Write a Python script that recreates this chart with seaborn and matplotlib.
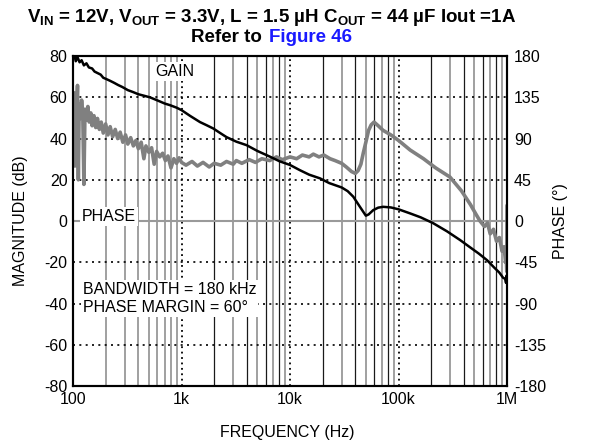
import numpy as np
import pandas as pd
import matplotlib
matplotlib.use("Agg")
import matplotlib.pyplot as plt
import seaborn as sns

# gain trace (Hz, dB)
gain_freq = [100, 103, 106, 110, 115, 120, 126, 133, 140, 150, 158, 165, 180, 190, 200, 220, 240,
             260, 285, 320, 360, 400, 450, 512, 600, 700, 783, 900, 1000, 1200, 1480, 1700, 1960,
             2300, 2600, 3200, 3980, 5000, 6550, 8000, 10000, 12300, 15000, 18900, 23000, 29900,
             34000, 38300, 44100, 48000, 50000, 53000, 58500, 65000, 72300, 85000, 100000, 128000,
             160000, 208000, 280000, 369000, 450000, 550000, 655000, 760000, 850000, 920000,
             960000, 980000, 990000, 1000000]
gain_db = [79, 80.5, 77.5, 79.5, 77, 78, 75.5, 76.5, 74.5, 74, 72.5, 72, 71, 69.5, 69, 68, 67,
           66, 65, 63.5, 62.5, 61.5, 60.8, 60, 58.5, 57, 56.2, 55, 53.8, 51, 48, 46.5, 44.9,
           42.5, 40.7, 38.5, 36.8, 34, 31.2, 29, 27.2, 24.7, 22.5, 20.7, 18.4, 16.3,
           14.5, 11.8, 6.9, 4, 2.6, 3.2, 5.3, 6.5, 6.9, 6.6, 5.7, 3.7,
           1.8, -1, -5, -9.2, -12.5, -15.8, -19, -22.5, -25, -27.5,
           -28, -30, -26.5, -30]

# phase trace (Hz, degrees)
phase_freq = [100, 102, 104, 106, 108, 110, 112, 114, 117, 120, 123, 126, 129, 133, 137, 141, 146,
              150, 156, 162, 168, 175, 182, 190, 200, 210, 220, 232, 245, 258, 272, 288, 305, 320,
              340, 360, 380, 400, 425, 450, 470, 500, 530, 560, 590, 630, 670, 710, 750, 800, 850,
              900, 950, 1000, 1100, 1250, 1400, 1580, 1800, 2000, 2300, 2600, 3000, 3200, 3600,
              4200, 4800, 5500, 6500, 7500, 8500, 10000, 11500, 13000, 15000, 16400, 18500, 20500,
              23400, 26000, 29900, 33000, 36900, 40000, 42400, 45000, 47300, 50000, 53000, 56000,
              59500, 65000, 72000, 85000, 100000, 128000, 170000, 220000, 298000, 380000, 460000,
              520000, 564000, 620000, 660000, 700000, 750000, 800000, 850000, 900000, 940000,
              970000, 985000, 995000, 1000000]
phase_deg = [95, 140, 60, 135, 120, 148, 45, 128, 112, 132, 118, 40, 122, 110, 125, 108, 118,
             104, 115, 102, 112, 100, 108, 96, 106, 94, 103, 92, 100, 90, 97, 86, 94, 84,
             91, 82, 88, 79, 86, 68, 82, 75, 80, 62, 76, 70, 74, 66, 71, 58, 68,
             63, 69, 64, 61, 65, 60, 64, 59, 63, 61, 65, 62, 66, 63,
             67, 64, 68, 66, 70, 67, 70, 68, 72, 70, 73, 70, 72,
             68, 66, 63, 59, 54, 52, 55, 62, 74, 86, 99, 105,
             108, 104, 99, 94, 88, 77.5, 68, 58, 48, 33, 18,
             7, 0, -6, -2, -14, -9, -22, -18, -33, -28,
             -45, -40, -55, 17]

mag_ticks = [-80, -60, -40, -20, 0, 20, 40, 60, 80]
phase_ticks = [-180, -135, -90, -45, 0, 45, 90, 135, 180]
freq_ticks = [100, 1000, 10000, 100000, 1000000]
freq_labels = ["100", "1k", "10k", "100k", "1M"]

sns.set_style("white")
plt.rcParams["font.family"] = ["Liberation Sans", "DejaVu Sans"]
plt.rcParams["mathtext.fontset"] = "custom"
plt.rcParams["mathtext.rm"] = "Liberation Sans"
plt.rcParams["mathtext.bf"] = "Liberation Sans:bold"
plt.rcParams["axes.unicode_minus"] = False
plt.rcParams["text.color"] = "black"

gain_df = pd.DataFrame({"f": gain_freq, "g": gain_db})
phase_df = pd.DataFrame({"f": phase_freq, "p": phase_deg})

fig = plt.figure(figsize=(6.13, 4.47), dpi=100)
ax = fig.add_axes([0.1191, 0.1365, 0.708, 0.738])
ax2 = ax.twinx()
ax.set_zorder(ax2.get_zorder() + 1)
ax.patch.set_visible(False)

for a in (ax, ax2):
    a.set_xscale("log")
    a.set_xlim(100, 1e6)
ax.set_ylim(-80, 80)
ax2.set_ylim(-180, 180)

# grid drawn on the lower (phase) axes so the traces sit on top
for dec in [100, 1000, 10000, 100000]:
    for m in range(2, 10):
        if m % 2 == 0 and dec > 100:
            ax2.axvline(dec * m, color="#1a1a1a", lw=0.9, zorder=0.5)
        else:
            ax2.axvline(dec * m, color="#999999", lw=1.3, zorder=0.5)
for f in freq_ticks[1:-1]:
    ax2.axvline(f, color="black", lw=1.3, ls=(0, (1, 2)), zorder=0.6)
for p in phase_ticks[1:-1]:
    if p == 0:
        ax2.axhline(p, color="#9a9a9a", lw=1.5, zorder=0.6)
    else:
        ax2.axhline(p, color="black", lw=1.2, ls=(0, (1.2, 2.6)), zorder=0.6)

sns.lineplot(data=phase_df, x="f", y="p", ax=ax2, color="#808080", lw=2.6,
             estimator=None, sort=False)
sns.lineplot(data=gain_df, x="f", y="g", ax=ax, color="black", lw=1.8,
             estimator=None, sort=False)

ax.set_yticks(mag_ticks)
ax2.set_yticks(phase_ticks)
ax.set_xticks(freq_ticks)
ax.set_xticklabels(freq_labels)
ax.xaxis.set_minor_locator(matplotlib.ticker.NullLocator())
ax2.xaxis.set_minor_locator(matplotlib.ticker.NullLocator())
ax.set_xlabel("")
ax.set_ylabel("")
ax2.set_ylabel("")
ax.tick_params(axis="both", length=0, labelsize=11.5, pad=4, colors="black")
ax2.tick_params(axis="y", length=0, labelsize=11.5, pad=5, colors="black")
for a in (ax, ax2):
    for s in a.spines.values():
        s.set_color("black")
        s.set_linewidth(1.5)

box = dict(facecolor="white", edgecolor="none", pad=1.5)
ax.text(570, 72.5, "GAIN", fontsize=11.5, va="center", ha="left", bbox=box, zorder=5)
ax.text(120, 2.0, "PHASE", fontsize=11.5, va="center", ha="left", bbox=box, zorder=5)
ax.text(123, -37.5, "BANDWIDTH = 180 kHz\nPHASE MARGIN = 60°", fontsize=11.5,
        va="center", ha="left", linespacing=1.25, bbox=box, zorder=5)

fig.text(0.4437, 1 - 22 / 447,
         r"$\mathbf{V_{IN}}$ = 12V, $\mathbf{V_{OUT}}$ = 3.3V, L = 1.5 µH "
         r"$\mathbf{C_{OUT}}$ = 44 µF Iout =1A",
         ha="center", va="baseline", fontsize=13.5, fontweight="bold")
fig.text(262 / 613, 1 - 42 / 447, "Refer to", ha="right", va="baseline",
         fontsize=13.5, fontweight="bold")
fig.text(269 / 613, 1 - 42 / 447, "Figure 46", ha="left", va="baseline",
         fontsize=13.5, fontweight="bold", color="#1a1aff")

fig.text(21 / 613, 1 - 221 / 447, "MAGNITUDE (dB)", rotation=90, ha="center",
         va="center", fontsize=11.5)
fig.text(561 / 613, 1 - 221 / 447, "PHASE (°)", rotation=90, ha="center",
         va="center", fontsize=11.5)
fig.text(287 / 613, 1 - 433 / 447, "FREQUENCY (Hz)", ha="center", va="center",
         fontsize=11.5)

fig.savefig("out.png", dpi=100)
